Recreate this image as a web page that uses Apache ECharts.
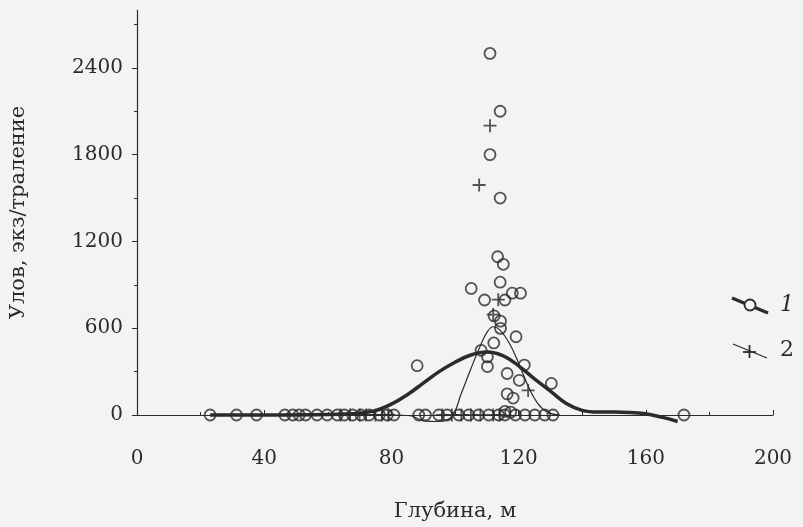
<!DOCTYPE html>
<html><head><meta charset="utf-8">
<script src="https://cdn.jsdelivr.net/npm/echarts@6/dist/echarts.min.js"></script>
<style>html,body{margin:0;padding:0;background:#f3f3f3}#c{width:803px;height:527px}</style>
</head><body><div id="c"></div>
<script>
// Series 1 (circles): depth, catch
const circleX = [111,114.2,111,114.2,113.4,115.2,114.2,105.1,118,120.6,109.3,115.7,112.3,114.3,114.3,119.2,112.2,108.2,110.2,110.2,121.8,116.4,120.2,130.3,116.4,118.3,88.1,115.7,117.5,
  23,31.3,37.6,46.5,49,51,53,56.6,59.8,63,65.2,67.8,70.4,73,76.2,78.7,80.8,88.6,90.7,94.9,97.5,101.2,104.3,107.4,110.6,113.7,115.7,119,122,125.1,128.2,130.8,172];
const circleY = [2500,2100,1800,1500,1094,1042,918,875,842,842,795,795,685,649,599,541,498,447,402,335,345,287,240,218,146,117,341,25,20,
  0,0,0,0,0,0,0,0,0,0,0,0,0,0,0,0,0,0,0,0,0,0,0,0,0,0,0,0,0,0,0,0,0];
// Series 2 (crosses)
const plusX = [111,107.6,113.6,112,123,64,67,70,72,75,77,79,96,99,102,105,108,112,114];
const plusY = [2000,1590,797,694,170,0,0,0,0,0,0,0,0,0,0,0,0,0,0];
// Smoothed curve 1 (thick)
const curve1X = [23,40,60,70,75,80,85,90,95,100,105,110,115,120,125,130,135,140,145,150,155,160,165,170];
const curve1Y = [0,0,3,12,30,75,140,220,300,365,415,435,410,340,250,165,80,32,20,20,18,8,-15,-45];
// Smoothed curve 2 (thin)
const curve2X = [23,60,80,86,90,95,99,102,105,108,110,112,114,117,120,123,126,129,133];
const curve2Y = [0,0,0,-5,-40,-45,-10,150,320,480,570,610,590,500,360,200,80,20,0];
const xTicks = [0,40,80,120,160,200];
const yTicks = [0,600,1200,1800,2400];

const zip = (a,b)=>a.map((v,i)=>[v,b[i]]);
const ink = '#2b2b2b';
const font = 'DejaVu Serif';
const plusPath = 'path://M0,5L10,5M5,0L5,10';

const chart = echarts.init(document.getElementById('c'));
chart.setOption({
  backgroundColor:'#f3f3f3',
  animation:false,
  grid:{left:133,right:30,top:10,bottom:101},
  xAxis:{type:'value',min:0,max:200,interval:40,
    name:'Глубина, м',nameLocation:'middle',nameGap:86,
    nameTextStyle:{fontFamily:font,fontSize:21,color:ink},
    axisLine:{lineStyle:{color:ink,width:1.2}},
    axisTick:{inside:true,length:5,lineStyle:{color:ink}},
    minorTick:{show:true,splitNumber:2,length:3,lineStyle:{color:ink}},
    axisLabel:{customValues:xTicks,fontFamily:font,fontSize:20,color:ink,margin:34,formatter:v=>String(v)},
    splitLine:{show:false}},
  yAxis:{type:'value',min:0,max:2800,interval:600,
    name:'Улов, экз/траление',nameLocation:'middle',nameGap:108,nameRotate:90,
    nameTextStyle:{fontFamily:font,fontSize:21,color:ink},
    axisLine:{show:true,lineStyle:{color:ink,width:1.2}},
    axisTick:{show:true,customValues:yTicks,length:5,lineStyle:{color:ink}},
    minorTick:{show:true,splitNumber:2,length:3,lineStyle:{color:ink}},
    axisLabel:{customValues:yTicks,fontFamily:font,fontSize:20,color:ink,margin:14,formatter:v=>String(v)},
    splitLine:{show:false}},
  series:[
    {type:'line',data:zip(curve1X,curve1Y),smooth:0.4,symbol:'none',clip:false,lineStyle:{color:ink,width:3.5},z:2},
    {type:'line',data:zip(curve2X,curve2Y),smooth:0.4,symbol:'none',clip:false,lineStyle:{color:ink,width:1.2},z:2},
    {type:'scatter',data:zip(circleX,circleY),symbol:'circle',symbolSize:11,
      itemStyle:{color:'rgba(0,0,0,0)',borderColor:ink,borderWidth:1.8},z:3},
    {type:'scatter',data:zip(plusX,plusY),symbol:plusPath,symbolSize:13,
      itemStyle:{color:'none',borderColor:ink,borderWidth:1.8},z:3}
  ],
  graphic:[
    {type:'line',shape:{x1:732,y1:298,x2:768,y2:313},style:{stroke:ink,lineWidth:3.5}},
    {type:'circle',shape:{cx:750,cy:305,r:5.5},style:{fill:'#f3f3f3',stroke:ink,lineWidth:1.8}},
    {type:'text',left:780,top:294,style:{text:'1',font:'italic 22px "DejaVu Serif"',fill:ink}},
    {type:'line',shape:{x1:733,y1:344,x2:767,y2:358},style:{stroke:ink,lineWidth:1.2}},
    {type:'line',shape:{x1:743,y1:352,x2:756,y2:352},style:{stroke:ink,lineWidth:1.8}},
    {type:'line',shape:{x1:749.5,y1:345,x2:749.5,y2:358},style:{stroke:ink,lineWidth:1.8}},
    {type:'text',left:780,top:339,style:{text:'2',font:'22px "DejaVu Serif"',fill:ink}}
  ]
});
</script></body></html>
